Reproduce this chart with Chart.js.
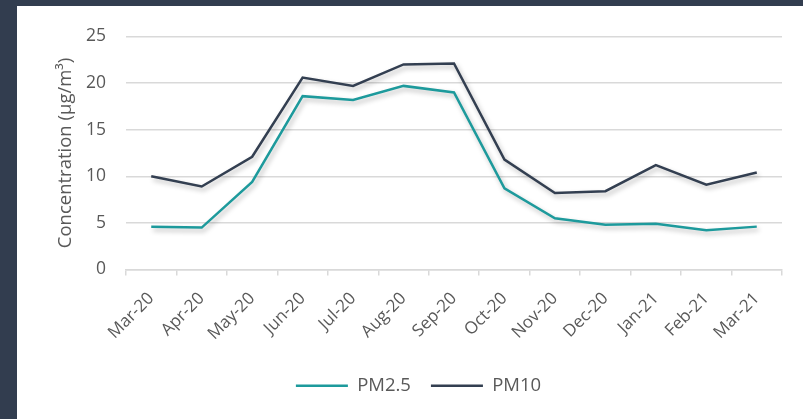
<!DOCTYPE html>
<html>
<head>
<meta charset="utf-8">
<script src="https://cdn.jsdelivr.net/npm/chart.js@4"></script>
<style>
  html, body { margin: 0; padding: 0; background: #323d4f; }
  body { width: 803px; height: 419px; position: relative; overflow: hidden; }
  #card { position: absolute; left: 17px; top: 6px; width: 786px; height: 413px; background: #fff; }
</style>
</head>
<body>
<div id="card"><canvas id="pmChart" width="786" height="413"></canvas></div>
<script>
const months = ['Mar-20', 'Apr-20', 'May-20', 'Jun-20', 'Jul-20', 'Aug-20', 'Sep-20',
                'Oct-20', 'Nov-20', 'Dec-20', 'Jan-21', 'Feb-21', 'Mar-21'];
const pm25 = [4.6, 4.5, 9.4, 18.6, 18.2, 19.7, 19.0, 8.7, 5.5, 4.8, 4.9, 4.2, 4.6];
const pm10 = [10.0, 8.9, 12.1, 20.6, 19.7, 22.0, 22.1, 11.8, 8.2, 8.4, 11.2, 9.1, 10.4];
const yTicks = [0, 5, 10, 15, 20, 25];

const TEAL = '#1d9a9c';
const NAVY = '#333f51';
const TXT  = '#595959';
const GRID = '#d9d9d9';
const FONT = "'Open Sans', sans-serif";

// soft drop shadow under the lines, like the Excel original
const lineShadow = {
  id: 'lineShadow',
  beforeDatasetsDraw(chart) {
    const c = chart.ctx;
    c.save();
    c.shadowColor = 'rgba(0,0,0,0.28)';
    c.shadowBlur = 5;
    c.shadowOffsetX = 2;
    c.shadowOffsetY = 3;
  },
  afterDatasetsDraw(chart) {
    chart.ctx.restore();
  },
};

// legend sits a bit right of the canvas centre in the original
const legendNudge = {
  id: 'legendNudge',
  afterLayout(chart) {
    chart.legend.left += 19;
    chart.legend.right += 19;
  },
};

Chart.defaults.font.family = FONT;
Chart.defaults.font.size = 17;
Chart.defaults.color = TXT;

const ctx = document.getElementById('pmChart').getContext('2d');
new Chart(ctx, {
  type: 'line',
  data: {
    labels: months,
    datasets: [
      { label: 'PM2.5', data: pm25, borderColor: TEAL, backgroundColor: TEAL, borderWidth: 2.5, pointRadius: 0, tension: 0 },
      { label: 'PM10',  data: pm10, borderColor: NAVY, backgroundColor: NAVY, borderWidth: 2.5, pointRadius: 0, tension: 0 },
    ],
  },
  plugins: [lineShadow, legendNudge],
  options: {
    responsive: false,
    animation: false,
    layout: { padding: { left: 0, right: 21, top: 29, bottom: 14 } },
    scales: {
      x: {
        offset: true,
        grid: { drawOnChartArea: false, offset: true, tickLength: 6, color: GRID, lineWidth: 1.5 },
        border: { color: GRID, width: 1.5 },
        ticks: { autoSkip: false, minRotation: 45, maxRotation: 45, padding: 13, color: TXT, font: { size: 17 } },
        afterFit: (s) => { s.height = 87; },
      },
      y: {
        min: 0,
        max: 25,
        afterBuildTicks: (s) => { s.ticks = yTicks.map(v => ({ value: v })); },
        grid: { drawTicks: false, color: GRID, lineWidth: 1.5 },
        border: { display: false },
        ticks: { padding: 20, color: TXT, font: { size: 17.5 } },
        title: { display: true, text: 'Concentration (µg/m³)', color: TXT, padding: { top: 38, bottom: 0 }, font: { size: 18.5 } },
        afterFit: (s) => { s.width = 109; },
      },
    },
    plugins: {
      legend: {
        position: 'bottom',
        labels: { usePointStyle: true, pointStyle: 'line', pointStyleWidth: 52, padding: 20, color: TXT, font: { size: 18.5 } },
      },
      tooltip: { enabled: false },
    },
  },
});
</script>
</body>
</html>
